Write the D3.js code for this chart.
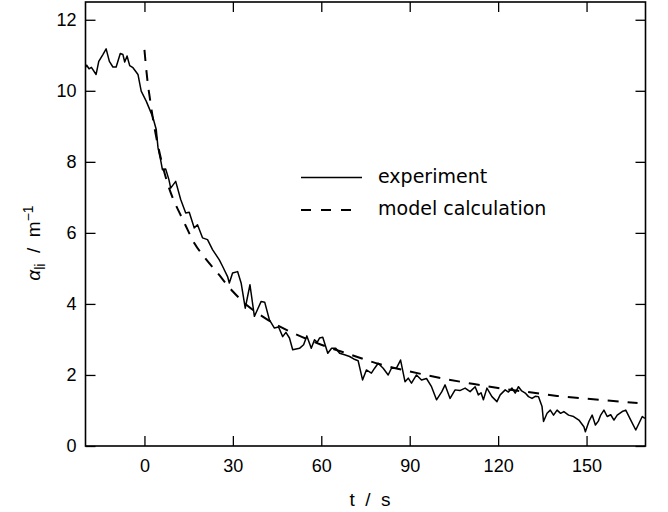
<!DOCTYPE html>
<html>
<head>
<meta charset="utf-8">
<script src="https://cdn.jsdelivr.net/npm/d3@7"></script>
<style>
  html, body { margin: 0; padding: 0; background: #fff; }
  svg { display: block; }
</style>
</head>
<body>
<svg id="chart" width="668" height="512"></svg>
<script>
// ---- data ----
const expT = [-20, -19.6, -18.8, -18, -16.4, -15.5, -14.1, -13.0, -11.9, -10.7, -9.6, -8.2, -7.3, -6.7, -5.9, -5.0, -3.9, -3.0, -2.2, -1.1,
  0.6, 1.8, 2.9, 4.0, 4.6, 5.5, 6.1, 7.2, 8.3, 8.9, 10.6, 12.3, 14.0, 15.2, 16.9, 18.0, 19.7, 21.4, 23.1, 25.4,
  26.5, 28.2, 28.8, 29.9, 31.6, 32.8, 34.2, 35.8, 37.3, 38.4, 39.6, 40.8, 42.4, 44.1, 45.5, 46.9, 48.0, 49.2, 50.3, 52.6,
  54.0, 55.1, 56.6, 57.7, 58.6, 59.4, 60.5, 62.2, 63.5, 64.9, 66.2, 67.9, 69.6, 71.0, 72.5, 74.0, 75.3, 77.0, 78.1, 79.3,
  81.0, 82.7, 83.8, 85.5, 86.9, 88.4, 89.5, 90.6, 92.3, 94.0, 95.7, 97.4, 99.1, 100.9, 102.0, 103.7, 105.4, 107.0, 108.8, 110.5,
  112.2, 113.3, 114.2, 115.0, 116.2, 117.9, 119.6, 120.7, 122.4, 123.5, 124.7, 125.8, 126.9, 128.0, 129.2, 130.3, 131.5, 132.6, 133.7, 134.9,
  135.4, 136.6, 137.7, 138.8, 140.0, 141.2, 142.3, 143.9, 145.6, 147.4, 149.1, 149.6, 150.8, 151.9, 153.0, 154.0, 154.8, 155.9, 157.0, 158.2,
  159.3, 160.4, 162.1, 163.3, 165.0, 166.7, 167.8, 168.9, 169.8];
const expV = [10.66, 10.72, 10.62, 10.66, 10.46, 10.83, 11.02, 11.18, 10.83, 10.67, 10.67, 11.05, 11.02, 10.81, 10.98, 10.71, 10.65, 10.55, 10.46, 9.99,
  9.71, 9.47, 9.24, 8.91, 8.40, 8.05, 7.78, 7.80, 7.50, 7.26, 7.45, 6.94, 6.56, 6.58, 6.14, 6.23, 5.86, 5.81, 5.53, 5.24,
  5.06, 4.77, 4.59, 4.87, 4.91, 4.59, 3.88, 4.54, 3.65, 3.85, 4.07, 4.05, 3.55, 3.32, 3.35, 3.08, 3.20, 3.04, 2.71, 2.75,
  2.85, 3.10, 2.75, 2.99, 2.92, 3.04, 3.06, 2.61, 2.75, 2.75, 2.61, 2.57, 2.52, 2.45, 2.40, 1.86, 2.14, 2.05, 2.19, 2.33,
  2.19, 2.00, 2.19, 2.19, 2.42, 1.81, 1.91, 1.77, 2.00, 1.86, 1.90, 1.67, 1.30, 1.53, 1.72, 1.34, 1.58, 1.56, 1.63, 1.53,
  1.67, 1.44, 1.50, 1.30, 1.63, 1.39, 1.25, 1.44, 1.58, 1.52, 1.63, 1.49, 1.67, 1.55, 1.49, 1.39, 1.34, 1.40, 1.39, 1.11,
  0.69, 0.92, 1.01, 0.87, 1.01, 0.92, 0.97, 0.87, 0.83, 0.73, 0.54, 0.40, 0.69, 0.87, 0.59, 0.70, 0.87, 1.01, 0.83, 0.88,
  0.73, 0.87, 0.97, 1.01, 0.73, 0.45, 0.64, 0.83, 0.78];

const modelT = [0, 1, 2, 3, 4, 6, 8, 10, 12, 14, 17, 20, 25, 30, 35, 40, 45, 50, 60, 70, 80, 90, 100, 110, 120, 130, 140, 150, 160, 167.3];
const modelV = [11.15, 10.3, 9.7, 9.15, 8.7, 7.95, 7.35, 6.9, 6.55, 6.2, 5.7, 5.35, 4.85, 4.35, 3.95, 3.65, 3.4, 3.2, 2.85, 2.57, 2.3, 2.1, 1.92, 1.77, 1.63, 1.52, 1.41, 1.33, 1.26, 1.21];

const xTicks = [0, 30, 60, 90, 120, 150];
const yTicks = [0, 2, 4, 6, 8, 10, 12];
const xDomain = [-20, 170];
const yDomain = [0, 12.5];
const seriesNames = ["experiment", "model calculation"];

// ---- layout ----
const L = 85.5, R = 645.5, T = 2, B = 446;
const svg = d3.select("#chart");
const x = d3.scaleLinear().domain(xDomain).range([L, R]);
const y = d3.scaleLinear().domain(yDomain).range([B, T]);

const tickFont = "'Liberation Sans', Arial, Helvetica, sans-serif";

function styleAxis(g) {
  g.select(".domain").remove();
  g.selectAll(".tick line").attr("stroke", "#000").attr("stroke-width", 1.3);
  g.selectAll("text").attr("fill", "#000").style("font-family", tickFont).style("font-size", "18px");
}

svg.append("g").attr("transform", `translate(0,${B})`)
  .call(d3.axisBottom(x).tickValues(xTicks).tickSize(-10).tickPadding(13).tickFormat(d3.format("d")))
  .call(styleAxis);
svg.append("g").attr("transform", `translate(0,${T})`)
  .call(d3.axisTop(x).tickValues(xTicks).tickSize(-10).tickFormat(""))
  .call(styleAxis);
svg.append("g").attr("transform", `translate(${L},0)`)
  .call(d3.axisLeft(y).tickValues(yTicks).tickSize(-10).tickPadding(9).tickFormat(d3.format("d")))
  .call(styleAxis);
svg.append("g").attr("transform", `translate(${R},0)`)
  .call(d3.axisRight(y).tickValues(yTicks).tickSize(-10).tickFormat(""))
  .call(styleAxis);

// frame
svg.append("rect").attr("x", L).attr("y", T).attr("width", R - L).attr("height", B - T)
  .attr("fill", "none").attr("stroke", "#000").attr("stroke-width", 1.6);

// clip
svg.append("clipPath").attr("id", "clip").append("rect")
  .attr("x", L).attr("y", T).attr("width", R - L).attr("height", B - T);

const expData = expT.map((t, i) => [t, expV[i]]);
const modelData = modelT.map((t, i) => [t, modelV[i]]);

svg.append("path").datum(modelData).attr("clip-path", "url(#clip)")
  .attr("d", d3.line().x(d => x(d[0])).y(d => y(d[1])).curve(d3.curveMonotoneX))
  .attr("fill", "none").attr("stroke", "#000")
  .attr("stroke-width", 2).attr("stroke-dasharray", "11,9");

svg.append("path").datum(expData).attr("clip-path", "url(#clip)")
  .attr("d", d3.line().x(d => x(d[0])).y(d => y(d[1]))).attr("fill", "none").attr("stroke", "#000")
  .attr("stroke-width", 1.5).attr("stroke-linejoin", "round");

// legend
const legFont = "'DejaVu Sans', Verdana, sans-serif";
const leg = svg.append("g");
leg.append("line").attr("x1", 301).attr("x2", 362).attr("y1", 177.5).attr("y2", 177.5)
  .attr("stroke", "#000").attr("stroke-width", 1.5);
leg.append("line").attr("x1", 301).attr("x2", 352).attr("y1", 210).attr("y2", 210)
  .attr("stroke", "#000").attr("stroke-width", 2).attr("stroke-dasharray", "10,10");
leg.append("text").attr("x", 378).attr("y", 183).text(seriesNames[0])
  .style("font-family", legFont).style("font-size", "19px").attr("fill", "#000");
leg.append("text").attr("x", 378).attr("y", 215).text(seriesNames[1])
  .style("font-family", legFont).style("font-size", "19px").attr("fill", "#000");

// axis titles
svg.append("text").attr("x", 370).attr("y", 506).attr("text-anchor", "middle")
  .style("font-family", tickFont).style("font-size", "19px").style("white-space", "pre")
  .text("t  /  s");

const yl = svg.append("text").attr("transform", "translate(40,243) rotate(-90)")
  .attr("text-anchor", "middle").style("font-family", tickFont).style("font-size", "19px")
  .style("white-space", "pre");
yl.append("tspan").style("font-style", "italic").text("α");
yl.append("tspan").attr("dy", 5).style("font-size", "14px").text("li");
yl.append("tspan").attr("dy", -5).text("  /  m");
yl.append("tspan").attr("dy", -7).style("font-size", "14px").text("−1");
</script>
</body>
</html>
